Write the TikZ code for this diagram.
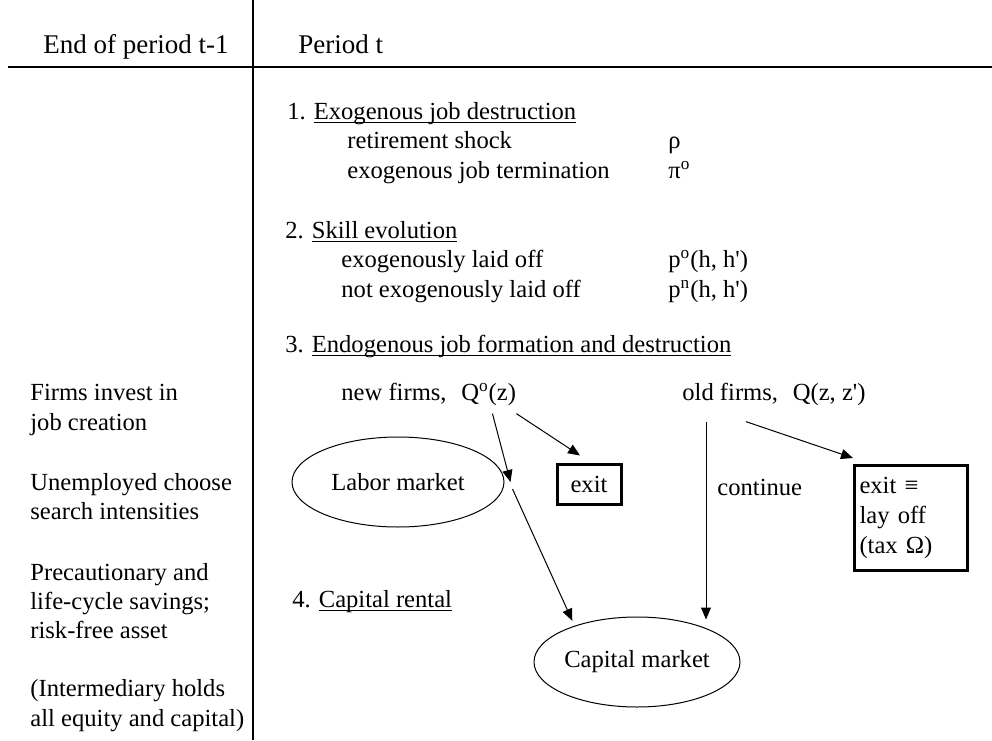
\documentclass[tikz,border=0pt]{standalone}
\usepackage{fontspec}
\setmainfont{Liberation Serif}
\usepackage{tikz}
\usetikzlibrary{arrows.meta,positioning,calc,shapes.geometric}

% underline as in the typed original
\newcommand{\ulin}[1]{\setbox0\hbox{#1}\rlap{\rule[-2pt]{\wd0}{0.5pt}}\box0}
\newcommand{\pr}{\textquotesingle}

\begin{document}
\begin{tikzpicture}[x=0.5pt, y=-0.5pt, font=\fontsize{12.3pt}{14.8pt}\selectfont,
  txt/.style={anchor=base west, inner sep=0pt},
  head/.style={txt, font=\fontsize{13.5pt}{16pt}\selectfont},
  ell/.style={draw, ellipse, line width=0.5pt, inner sep=0pt, minimum height=45pt},
  box/.style={draw, line width=1.5pt, inner sep=0pt},
  arr/.style={line width=0.5pt, -{Triangle[length=6pt, width=5pt]}}]
\useasboundingbox (0,0) rectangle (992,740);
% table frame
\draw[line width=1.3pt] (253,0) -- (253,740);
\draw[line width=1.3pt] (8,67) -- (992,67);
\node[head] (hleft) at (43,53) {End of period t-1};
\node[head] (hright) at (298,53) {Period t};

% left column
\node[txt] (fa) at (30,400) {Firms invest in};
\node[txt] (fb) at (30,430) {job creation};
\node[txt] (ua) at (30,490) {Unemployed choose};
\node[txt] (ub) at (30,519) {search intensities};
\node[txt] (pa) at (30,580) {Precautionary and};
\node[txt] (pb) at (30,609) {life-cycle savings;};
\node[txt] (pc) at (30,638) {risk-free asset};
\node[txt] (ia) at (30,696) {(Intermediary holds};
\node[txt] (ib) at (30,726) {all equity and capital)};

% 1. and 2.
\node[txt] (s1) at (287,119) {1.\hspace{4pt}\ulin{Exogenous job destruction}};
\node[txt] (r1) at (347,148) {retirement shock};
\node[txt] (r1v) at (668,148) {ρ};
\node[txt] (r2) at (347,178) {exogenous job termination};
\node[txt] (r2v) at (668,178) {π\textsuperscript{o}};
\node[txt] (s2) at (285,238) {2.\hspace{4pt}\ulin{Skill evolution}};
\node[txt] (k1) at (341,267) {exogenously laid off};
\node[txt] (k1v) at (668,267) {p\textsuperscript{o}(h, h\pr)};
\node[txt] (k2) at (341,297) {not exogenously laid off};
\node[txt] (k2v) at (668,297) {p\textsuperscript{n}(h, h\pr)};

% 3. firms
\node[txt] (s3) at (285,352) {3.\hspace{4pt}\ulin{Endogenous job formation and destruction}};
\node[txt] (newf) at (341,400) {new firms,\hspace{0.35em} Q\textsuperscript{o}(z)};
\node[txt] (oldf) at (682,400) {old firms,\hspace{0.35em} Q(z, z\pr)};
\node[ell, minimum width=106pt] (labor) at (398,482) {Labor market};
\node[box, minimum width=32pt, minimum height=20pt] (exitn) at (589,484) {exit};
\node[txt] (cont) at (717,495) {continue};
\node[box, anchor=north west, align=left, text width=51.5pt, inner xsep=2.5pt,
  minimum height=52.5pt] (layoff) at (853,464) {exit ≡\\ lay off\\ (tax Ω)};

% 4. capital
\node[txt] (s4) at (292,607) {4.\hspace{4pt}\ulin{Capital rental}};
\node[ell, minimum width=103pt] (capital) at (637,662) {Capital market};

\coordinate (nq) at ([xshift=-12pt, yshift=-4pt]newf.south east);
\coordinate (nx) at ([yshift=-4pt]newf.south east);
\coordinate (oc) at ([xshift=12pt, yshift=-8pt]oldf.south west);
\coordinate (ox) at ([xshift=32pt, yshift=-8pt]oldf.south west);
\coordinate (ce) at (oc |- capital.north);
\draw[arr] (nx) -- ([xshift=-4.5pt, yshift=3.5pt]exitn.north);
\draw[arr] (nq) -- ([xshift=3pt]labor.east);
\draw[arr] ([xshift=4pt, yshift=-3.5pt]labor.east) -- ([xshift=-1pt, yshift=2.5pt]capital.150);
\draw[arr] (oc) -- ([yshift=-1.5pt]ce);
\draw[arr] (ox) -- ([yshift=3pt]layoff.north west);
\end{tikzpicture}
\end{document}
